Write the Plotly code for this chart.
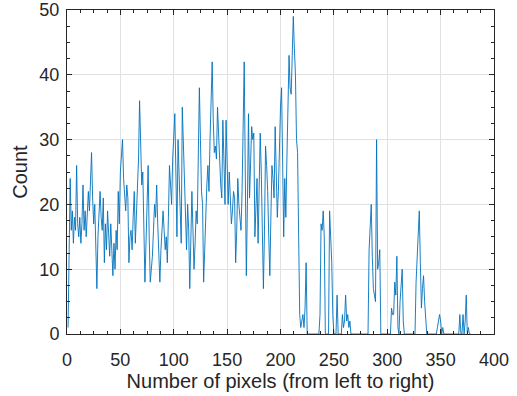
import plotly.graph_objects as go

counts = [
    1, 12, 24, 16, 19, 14, 18, 16, 26, 17,
    15, 18, 14, 17, 23, 16, 19, 15, 20, 22,
    19, 24, 28, 21, 17, 20, 14, 7, 15, 19,
    22, 18, 16, 21, 11, 17, 13, 19, 15, 12,
    17, 13, 9, 14, 10, 16, 13, 22, 17, 25,
    28, 30, 24, 21, 19, 23, 21, 11, 15, 16,
    13, 18, 22, 14, 19, 25, 27, 36, 28, 23,
    25, 17, 8, 14, 21, 26, 15, 8, 10, 12,
    16, 20, 18, 23, 17, 12, 8, 13, 17, 19,
    16, 13, 15, 11, 18, 26, 23, 20, 27, 31,
    34, 25, 15, 30, 24, 19, 14, 35, 30, 26,
    19, 13, 20, 16, 7, 14, 22, 16, 10, 14,
    19, 17, 29, 38, 30, 22, 20, 8, 13, 19,
    23, 26, 22, 30, 37, 42, 33, 28, 29, 27,
    35, 30, 26, 23, 21, 33, 27, 20, 33, 24,
    20, 25, 21, 17, 19, 22, 21, 11, 16, 24,
    20, 18, 16, 22, 33, 42, 25, 9, 20, 34,
    21, 27, 32, 30, 31, 15, 20, 24, 14, 22,
    31, 25, 17, 7, 16, 29, 26, 22, 15, 9,
    18, 26, 24, 21, 32, 25, 18, 22, 29, 35,
    38, 24, 15, 24, 18, 27, 35, 43, 38, 37,
    43, 49, 44, 40, 30, 28, 15, 3, 1, 2,
    3, 1, 4, 11, 0, 0, 0, 0, 0, 0,
    0, 0, 0, 0, 0, 0, 3, 17, 16, 19,
    15, 0, 0, 0, 0, 19, 15, 11, 3, 0,
    0, 0, 6, 0, 0, 0, 0, 3, 1, 2,
    6, 2, 3, 1, 2, 0, 0, 0, 0, 0,
    0, 0, 0, 0, 0, 0, 0, 0, 0, 0,
    0, 0, 13, 17, 20, 12, 7, 6, 5, 30,
    10, 11, 13, 0, 0, 0, 0, 0, 0, 0,
    0, 0, 0, 4, 3, 3, 8, 6, 12, 1,
    0, 5, 8, 10, 2, 0, 0, 0, 0, 0,
    0, 0, 0, 0, 0, 0, 8, 12, 15, 19,
    11, 4, 7, 9, 5, 3, 0, 0, 0, 0,
    0, 0, 0, 0, 0, 0, 1, 2, 3, 2,
    0, 1, 0, 0, 0, 0, 0, 0, 0, 0,
    0, 0, 0, 0, 0, 0, 0, 3, 0, 0,
    3, 0, 2, 6, 0, 1, 0, 0,
]
pixels = list(range(1, len(counts) + 1))

x_ticks = [0, 50, 100, 150, 200, 250, 300, 350, 400]
y_ticks = [0, 10, 20, 30, 40, 50]

axis_color = "#262626"
grid_color = "#e1e1e1"
font_family = "Liberation Sans, Arial, sans-serif"

fig = go.Figure()
fig.add_trace(go.Scatter(
    x=pixels, y=counts, mode="lines",
    line=dict(color="#0072BD", width=0.9),
    showlegend=False,
))

common = dict(
    showline=True, linecolor=axis_color, linewidth=1, mirror="allticks",
    ticks="inside", ticklen=5, tickcolor=axis_color, tickwidth=1,
    showgrid=True, gridcolor=grid_color, gridwidth=1,
    zeroline=False, automargin=False,
    tickfont=dict(family=font_family, size=18, color=axis_color),
)

fig.update_xaxes(
    range=[0, 400], tickvals=x_ticks, ticklabelstandoff=9,
    title=dict(text="Number of pixels (from left to right)",
               font=dict(family=font_family, size=20, color=axis_color), standoff=4),
    minor=dict(dtick=12.5, tick0=0, ticks="inside", ticklen=3, tickcolor=axis_color, showgrid=False),
    **common,
)
fig.update_yaxes(
    range=[0, 50], tickvals=y_ticks, ticklabelstandoff=3,
    title=dict(text="Count",
               font=dict(family=font_family, size=20, color=axis_color), standoff=6),
    minor=dict(dtick=2.5, tick0=0, ticks="inside", ticklen=3, tickcolor=axis_color, showgrid=False),
    **common,
)

fig.update_layout(
    width=517, height=396,
    margin=dict(l=67, r=23, t=10, b=62),
    paper_bgcolor="white", plot_bgcolor="white",
    font=dict(family=font_family, color=axis_color),
)

fig.write_html("out.html")
